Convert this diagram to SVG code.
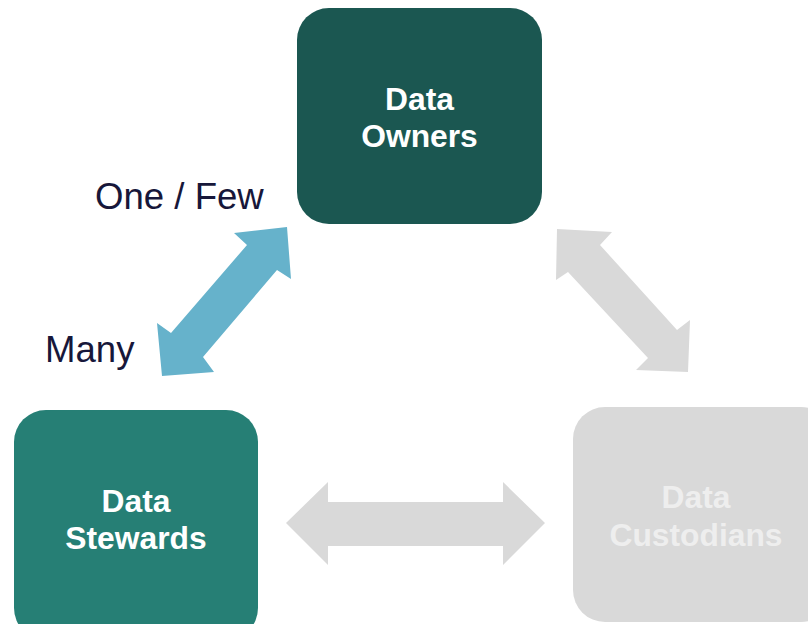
<svg xmlns="http://www.w3.org/2000/svg" width="808" height="624" viewBox="0 0 808 624">
<style>
.nt{font-family:"Liberation Sans",Arial,sans-serif;font-weight:bold;font-size:31.8px;text-anchor:middle}
.lbl{font-family:"Liberation Sans",Arial,sans-serif;font-size:36.6px;fill:#17173a}
</style>
<rect width="808" height="624" fill="#ffffff"/>
<g id="connectors">
<polygon id="arrow-owners-stewards" fill="#66b2cb" points="287,227 291,279 277,270 203,357 214,372 162,376 157,323 171,333 247,245 234,233"/>
<polygon id="arrow-owners-custodians" fill="#d9d9d9" points="557,229 612,232 600,245 677,330 690,320 688,372 636,370 648,358 568,272 556,280"/>
<polygon id="arrow-stewards-custodians" fill="#d9d9d9" points="286,523 328,482 328,502 503,502 503,482 545,523 503,565 503,546 328,546 328,565"/>
</g>
<g id="owners">
<rect x="297" y="8" width="245" height="216" rx="32" fill="#1b5751"/>
<text class="nt" fill="#ffffff" x="419.500" y="110">Data</text>
<text class="nt" fill="#ffffff" x="419.500" y="147">Owners</text>
</g>
<g id="stewards">
<rect x="14" y="410" width="244" height="230" rx="32" fill="#267f75"/>
<text class="nt" fill="#ffffff" x="136" y="512">Data</text>
<text class="nt" fill="#ffffff" x="136" y="549">Stewards</text>
</g>
<g id="custodians">
<rect x="573" y="407" width="260" height="215" rx="32" fill="#d9d9d9"/>
<text class="nt" fill="#eeeeee" x="696" y="508">Data</text>
<text class="nt" fill="#eeeeee" x="696" y="546">Custodians</text>
</g>
<text class="lbl" x="95" y="209">One / Few</text>
<text class="lbl" x="45" y="362">Many</text>
</svg>
